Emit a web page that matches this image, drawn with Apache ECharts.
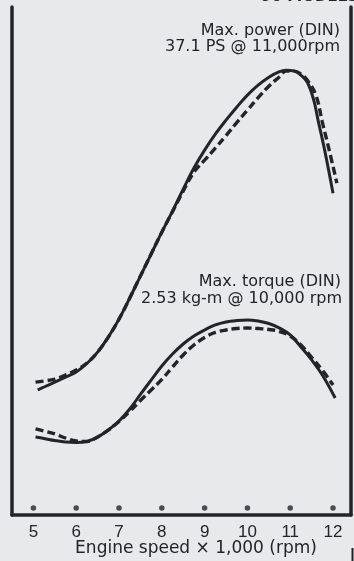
<!DOCTYPE html>
<html>
<head>
<meta charset="utf-8">
<script src="https://cdn.jsdelivr.net/npm/echarts@6/dist/echarts.min.js"></script>
<style>
  html, body { margin: 0; padding: 0; background: #e8e9eb; }
  #chart { width: 354px; height: 561px; }
</style>
</head>
<body>
<div id="chart"></div>
<script>
// Engine speed (x 1,000 rpm) tick categories
const rpmTicks = [5, 6, 7, 8, 9, 10, 11, 12];

// Power curve, solid (PS)
const powerSolidRpm = [5.1, 5.25, 5.5, 5.75, 6, 6.25, 6.5, 6.75, 7, 7.25, 7.5, 7.75, 8, 8.25, 8.5, 8.75, 9, 9.25, 9.5, 9.75, 10, 10.25, 10.5, 10.75, 10.9, 11.1, 11.25, 11.4, 11.55, 11.65, 11.8, 12.0];
const powerSolidPS  = [10.42, 10.67, 11.08, 11.5, 11.92, 12.63, 13.58, 14.83, 16.33, 18.08, 19.92, 21.75, 23.58, 25.33, 27.17, 28.92, 30.42, 31.75, 32.92, 34.0, 35.0, 35.83, 36.5, 36.96, 37.08, 37.0, 36.67, 36.08, 34.58, 32.92, 30.5, 26.83];

// Power curve, dashed (PS)
const powerDashRpm = [5.05, 5.25, 5.5, 5.75, 6, 6.25, 6.5, 6.75, 7, 7.25, 7.5, 7.75, 8, 8.25, 8.5, 8.75, 9, 9.25, 9.5, 9.75, 10, 10.25, 10.5, 10.75, 10.9, 11.1, 11.25, 11.4, 11.6, 11.75, 11.9, 12.09];
const powerDashPS  = [11.08, 11.17, 11.33, 11.67, 12.08, 12.67, 13.58, 14.83, 16.33, 18.08, 19.92, 21.75, 23.58, 25.29, 27.0, 28.58, 29.58, 30.58, 31.63, 32.71, 33.75, 34.79, 35.75, 36.54, 37.0, 37.0, 36.75, 36.25, 35.0, 32.75, 30.58, 27.67];

// Torque curve, solid (kg-m)
const torqueSolidRpm = [5.05, 5.25, 5.5, 5.75, 6, 6.25, 6.5, 6.75, 7, 7.25, 7.5, 7.75, 8, 8.25, 8.5, 8.75, 9, 9.25, 9.5, 9.75, 10, 10.25, 10.5, 10.75, 11, 11.25, 11.5, 11.75, 12.05];
const torqueSolidKgm = [1.555, 1.543, 1.526, 1.513, 1.509, 1.518, 1.555, 1.614, 1.690, 1.791, 1.913, 2.034, 2.152, 2.253, 2.337, 2.404, 2.455, 2.497, 2.522, 2.534, 2.539, 2.530, 2.509, 2.471, 2.413, 2.312, 2.203, 2.076, 1.883];

// Torque curve, dashed (kg-m)
const torqueDashRpm = [5.05, 5.25, 5.5, 5.75, 6, 6.25, 6.5, 6.75, 7, 7.25, 7.5, 7.75, 8, 8.25, 8.5, 8.75, 9, 9.25, 9.5, 9.75, 10, 10.25, 10.5, 10.75, 11, 11.25, 11.5, 11.75, 12.0];
const torqueDashKgm = [1.623, 1.606, 1.581, 1.547, 1.522, 1.518, 1.555, 1.614, 1.686, 1.770, 1.862, 1.950, 2.039, 2.144, 2.245, 2.329, 2.392, 2.434, 2.455, 2.467, 2.471, 2.467, 2.459, 2.442, 2.404, 2.329, 2.224, 2.118, 1.992];

// Texts
const powerNote = ['Max. power (DIN)', '37.1 PS @ 11,000rpm'];
const torqueNote = ['Max. torque (DIN)', '2.53 kg-m @ 10,000 rpm'];
const xTitle = 'Engine speed \u00d7 1,000 (rpm)';
const cornerText = '90 MODELS';

const ink = '#222428';
const zip = (a, b) => a.map((v, i) => [v, b[i]]);

const chart = echarts.init(document.getElementById('chart'), null, { renderer: 'canvas' });
const annFont = '16px "DejaVu Sans"';

chart.setOption({
  backgroundColor: '#e8e9eb',
  animation: false,
  grid: { left: 12, right: 3, top: 7, bottom: 46 },
  xAxis: {
    type: 'value', min: 4.5, max: 12.42, interval: 0.5,
    axisLine: { show: true, lineStyle: { color: ink, width: 3.5 } },
    axisTick: { show: false },
    splitLine: { show: false },
    axisLabel: {
      color: ink, fontSize: 17, fontFamily: 'Liberation Sans', margin: 9,
      showMaxLabel: false, showMinLabel: false,
      formatter: v => (Math.abs(v - Math.round(v)) < 1e-6 && rpmTicks.includes(Math.round(v))) ? String(Math.round(v)) : ''
    }
  },
  yAxis: [
    { type: 'value', position: 'left', min: 0, max: 42.35,
      axisLine: { show: true, lineStyle: { color: ink, width: 3.5 } },
      axisTick: { show: false }, axisLabel: { show: false }, splitLine: { show: false } },
    { type: 'value', position: 'right', min: 0.9, max: 5.169,
      axisLine: { show: true, lineStyle: { color: ink, width: 3.5 } },
      axisTick: { show: false }, axisLabel: { show: false }, splitLine: { show: false } }
  ],
  series: [
    { type: 'line', yAxisIndex: 0, data: zip(powerSolidRpm, powerSolidPS), smooth: 0.4, symbol: 'none',
      lineStyle: { color: ink, width: 3 } },
    { type: 'line', yAxisIndex: 0, data: zip(powerDashRpm, powerDashPS), smooth: 0.4, symbol: 'none',
      lineStyle: { color: ink, width: 3.4, type: [8, 4] } },
    { type: 'line', yAxisIndex: 1, data: zip(torqueSolidRpm, torqueSolidKgm), smooth: 0.4, symbol: 'none',
      lineStyle: { color: ink, width: 3 } },
    { type: 'line', yAxisIndex: 1, data: zip(torqueDashRpm, torqueDashKgm), smooth: 0.4, symbol: 'none',
      lineStyle: { color: ink, width: 3.4, type: [8, 4] } },
    { type: 'scatter', yAxisIndex: 0, data: rpmTicks.map(r => [r, 0.58]), symbol: 'circle', symbolSize: 5.5,
      itemStyle: { color: ink } }
  ],
  graphic: [
    { type: 'text', x: 340, y: 31, style: { text: powerNote[0], font: annFont, fill: ink, textAlign: 'right', textVerticalAlign: 'middle' } },
    { type: 'text', x: 340, y: 47, style: { text: powerNote[1], font: annFont, fill: ink, textAlign: 'right', textVerticalAlign: 'middle' } },
    { type: 'text', x: 341, y: 282, style: { text: torqueNote[0], font: annFont, fill: ink, textAlign: 'right', textVerticalAlign: 'middle' } },
    { type: 'text', x: 342, y: 299, style: { text: torqueNote[1], font: annFont, fill: ink, textAlign: 'right', textVerticalAlign: 'middle' } },
    { type: 'text', x: 196, y: 549, style: { text: xTitle, font: '17px "DejaVu Sans"', fill: ink, textAlign: 'center', textVerticalAlign: 'middle' } },
    { type: 'text', x: 358, y: 5, style: { text: cornerText, font: 'bold 15px "DejaVu Sans"', fill: ink, textAlign: 'right', textVerticalAlign: 'bottom' } },
    { type: 'line', shape: { x1: 352.5, y1: 548, x2: 352.5, y2: 561 }, style: { stroke: ink, lineWidth: 2 } }
  ]
});
</script>
</body>
</html>
